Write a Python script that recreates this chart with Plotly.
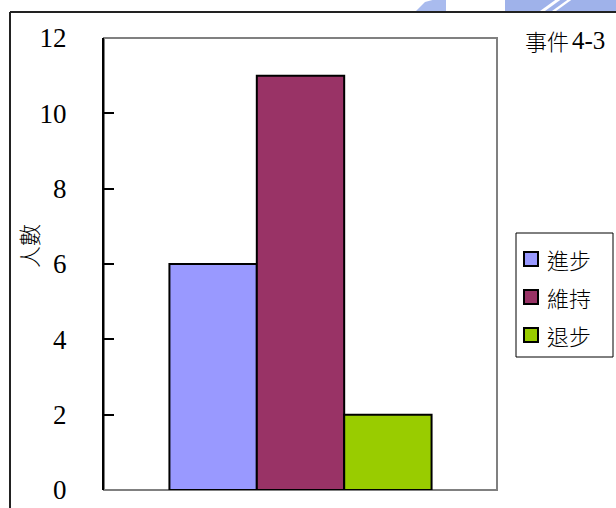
import plotly.graph_objects as go

# Data
categories = ["進步", "維持", "退步"]
counts = [6, 11, 2]
colors = ["#9999FF", "#993366", "#99CC00"]
y_ticks = [0, 2, 4, 6, 8, 10, 12]
chart_title_cjk = "事件"
chart_title_num = "4-3"
y_title = "人數"

# Pixel geometry helpers (plot area spans x 104..497, y 38..490)
L, R, T, B = 104, 497, 38, 490
W, H = 616, 508


def px(x):
    return (x - L) / (R - L)


def py(y):
    return (B - y) / (B - T)


fig = go.Figure()
for name, val, col in zip(categories, counts, colors):
    fig.add_trace(go.Bar(
        x=[""], y=[val], name=name, showlegend=False,
        marker=dict(color=col, line=dict(color="black", width=2)),
    ))

serif = "Liberation Serif"
cjk = "Noto Sans CJK TC"

shapes = [
    # gray plot frame
    dict(type="rect", xref="paper", yref="paper", x0=0, x1=1, y0=0, y1=1,
         line=dict(color="#808080", width=2), layer="below"),
    # outer page frame lines
    dict(type="line", xref="paper", yref="paper", x0=px(10), x1=px(W + 5),
         y0=py(12), y1=py(12), line=dict(color="#222222", width=2)),
    dict(type="line", xref="paper", yref="paper", x0=px(10), x1=px(10),
         y0=py(12), y1=py(H + 5), line=dict(color="#222222", width=2)),
    # watermark fragments above the page frame
    dict(type="path", xref="paper", yref="paper",
         path=f"M {px(505)} {py(-2)} L {px(620)} {py(-2)} L {px(620)} {py(11)} "
              f"L {px(505)} {py(11)} Z",
         fillcolor="#9fb2ea", line=dict(width=0)),
    dict(type="path", xref="paper", yref="paper",
         path=f"M {px(540)} {py(11)} L {px(558)} {py(-2)} L {px(563)} {py(-2)} "
              f"L {px(545)} {py(11)} Z",
         fillcolor="white", line=dict(width=0)),
    dict(type="path", xref="paper", yref="paper",
         path=f"M {px(552)} {py(11)} L {px(570)} {py(-2)} L {px(574)} {py(-2)} "
              f"L {px(556)} {py(11)} Z",
         fillcolor="white", line=dict(width=0)),
    dict(type="path", xref="paper", yref="paper",
         path=f"M {px(416)} {py(11)} L {px(425)} {py(2)} L {px(440)} {py(-2)} "
              f"L {px(446)} {py(-2)} L {px(446)} {py(11)} Z",
         fillcolor="#a9bbee", line=dict(width=0)),
    # legend box
    dict(type="rect", xref="paper", yref="paper", x0=px(516), x1=px(613),
         y0=py(357), y1=py(233), line=dict(color="black", width=1),
         fillcolor="white"),
]

annotations = [
    dict(text=chart_title_cjk, xref="paper", yref="paper", x=px(571), y=py(40),
         xanchor="right", yanchor="middle", showarrow=False,
         font=dict(family=cjk, size=22, color="black", weight=300)),
    dict(text=chart_title_num, xref="paper", yref="paper", x=px(570), y=py(40),
         xanchor="left", yanchor="middle", showarrow=False,
         font=dict(family=serif, size=25, color="black")),
    dict(text=y_title, xref="paper", yref="paper", x=px(28), y=py(246),
         xanchor="center", yanchor="middle", showarrow=False, textangle=-90,
         font=dict(family=cjk, size=22, color="black", weight=300)),
]

# legend entries: swatch + label per series
row_y = [259, 297, 335]
for name, col, ry in zip(categories, colors, row_y):
    shapes.append(dict(type="rect", xref="paper", yref="paper",
                       x0=px(524), x1=px(538), y0=py(ry + 7), y1=py(ry - 7),
                       fillcolor=col, line=dict(color="black", width=2)))
    annotations.append(dict(text=name, xref="paper", yref="paper",
                            x=px(545), y=py(ry), xanchor="left", yanchor="middle",
                            showarrow=False,
                            font=dict(family=cjk, size=22, color="black", weight=300)))

fig.update_layout(
    width=W, height=H,
    margin=dict(l=L, r=W - R, t=T, b=H - B, pad=0, autoexpand=False),
    paper_bgcolor="white", plot_bgcolor="white",
    barmode="group", bargap=0.333, bargroupgap=0,
    showlegend=False,
    xaxis=dict(showticklabels=False, ticks="", showgrid=False, zeroline=False,
               showline=False, fixedrange=True, automargin=False),
    yaxis=dict(range=[0, 12], tickvals=y_ticks, ticks="inside", ticklen=10,
               tickwidth=2, tickcolor="black", showline=True, linecolor="black",
               linewidth=2, showgrid=False, zeroline=False, automargin=False,
               ticklabelstandoff=30,
               tickfont=dict(family=serif, size=27, color="black")),
    shapes=shapes,
    annotations=annotations,
)

fig.write_html("out.html")
